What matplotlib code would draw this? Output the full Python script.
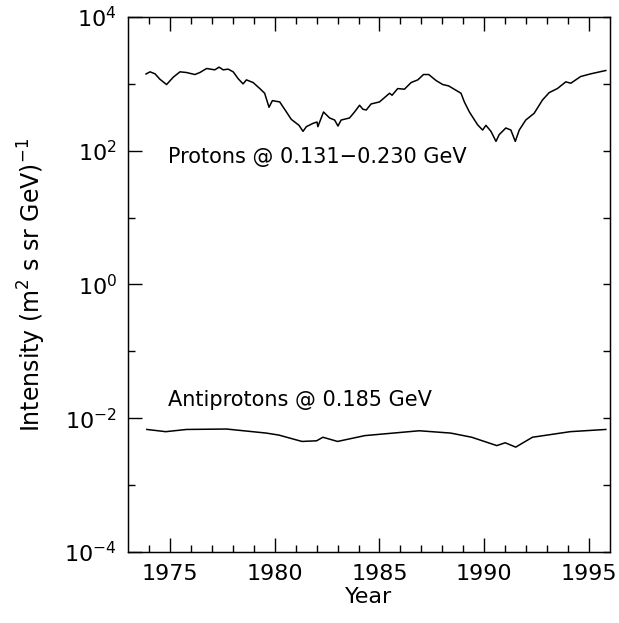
import math
import matplotlib
matplotlib.use("Agg")
import matplotlib.pyplot as plt
from matplotlib.ticker import FixedLocator, NullFormatter, FuncFormatter

proton_years = [1973.86, 1974.05, 1974.29, 1974.52, 1974.68, 1974.84, 1975.16, 1975.48, 1975.79,
                1976.19, 1976.43, 1976.75, 1977.14, 1977.35, 1977.54, 1977.78, 1978.02, 1978.25,
                1978.49, 1978.65, 1978.97, 1979.29, 1979.52, 1979.73, 1979.89, 1980.24, 1980.56,
                1980.79, 1981.16, 1981.35, 1981.51, 1981.83, 1982.02, 1982.06, 1982.33, 1982.62,
                1982.86, 1983.02, 1983.17, 1983.57, 1983.81, 1984.05, 1984.21, 1984.37, 1984.6,
                1985.0, 1985.48, 1985.6, 1985.87, 1986.19, 1986.51, 1986.83, 1987.1, 1987.35,
                1987.7, 1988.02, 1988.3, 1988.89, 1989.05, 1989.29, 1989.68, 1989.92, 1990.08,
                1990.32, 1990.56, 1990.71, 1991.03, 1991.27, 1991.48, 1991.67, 1991.98, 1992.38,
                1992.78, 1993.1, 1993.49, 1993.89, 1994.13, 1994.6, 1995.08, 1995.8]
proton_flux = [1406, 1514, 1413, 1175, 1072, 977, 1259, 1514, 1479,
               1380, 1479, 1698, 1622, 1778, 1622, 1660, 1514, 1202,
               1000, 1148, 1047, 851, 724, 447, 562, 537, 380,
               295, 240, 195, 229, 257, 269, 229, 380, 309,
               288, 234, 288, 309, 380, 479, 417, 407, 501,
               537, 724, 676, 851, 832, 1047, 1148, 1380, 1380,
               1122, 977, 933, 724, 537, 380, 245, 204, 240,
               195, 138, 174, 219, 204, 138, 204, 288, 363,
               575, 741, 851, 1072, 1023, 1288, 1413, 1585]

pbar_years = [1973.9, 1974.8, 1975.8, 1977.7, 1979.6, 1980.2, 1981.3, 1982.0, 1982.3,
              1983.0, 1984.3, 1986.9, 1988.4, 1989.4, 1990.6, 1991.0, 1991.5, 1992.3,
              1994.1, 1995.8]
pbar_flux = [6.8e-3, 6.3e-3, 6.8e-3, 6.9e-3, 6.0e-3, 5.6e-3, 4.5e-3, 4.6e-3, 5.2e-3,
             4.5e-3, 5.5e-3, 6.5e-3, 6.0e-3, 5.2e-3, 3.9e-3, 4.3e-3, 3.7e-3, 5.2e-3,
             6.3e-3, 6.8e-3]

x_major = [1975, 1980, 1985, 1990, 1995]
x_minor = list(range(1974, 1996))
y_major_exp = [-4, -2, 0, 2, 4]
y_minor_exp = [-3, -1, 1, 3]

fig = plt.figure(figsize=(6.19, 6.23), dpi=100)
rect = [128/619, 1-552/623, (610-128)/619, (552-17)/623]
ax = fig.add_axes(rect)

ax.plot(proton_years, proton_flux, color='black', lw=1.1)
ax.plot(pbar_years, pbar_flux, color='black', lw=1.1)

ax.set_yscale('log')
ax.set_xlim(1973, 1996)
ax.set_ylim(1e-4, 1e4)

ax.xaxis.set_major_locator(FixedLocator(x_major))
ax.xaxis.set_minor_locator(FixedLocator(x_minor))
ax.yaxis.set_major_locator(FixedLocator([10.0**e for e in y_major_exp]))
ax.yaxis.set_minor_locator(FixedLocator([10.0**e for e in y_minor_exp]))
ax.yaxis.set_minor_formatter(NullFormatter())
ax.yaxis.set_major_formatter(FuncFormatter(lambda v, p: r'$10^{%d}$' % round(math.log10(v))))

ax.tick_params(which='major', direction='in', length=10, width=1, top=True, right=False,
               labelsize=16)
ax.tick_params(which='minor', direction='in', length=5, width=1, top=True, right=False)
ax.tick_params(axis='x', which='major', pad=9)
ax.tick_params(axis='y', which='major', pad=8)
for sp in ax.spines.values():
    sp.set_linewidth(1.0)

# right-hand axis: short ticks at every decade, no labels
ax2 = ax.twinx()
ax2.set_yscale('log')
ax2.set_ylim(1e-4, 1e4)
ax2.yaxis.set_major_locator(FixedLocator([10.0**e for e in sorted(y_major_exp + y_minor_exp)]))
ax2.yaxis.set_minor_locator(FixedLocator([]))
ax2.yaxis.set_major_formatter(NullFormatter())
ax2.yaxis.set_minor_formatter(NullFormatter())
ax2.tick_params(axis='y', which='major', direction='in', length=5, width=1)

ax.set_xlabel('Year', fontsize=16, labelpad=2)
ax.set_ylabel(r'Intensity (m$^2$ s sr GeV)$^{-1}$', fontsize=17, labelpad=12)

ax.text(1974.9, 80, 'Protons @ 0.131\u22120.230 GeV', fontsize=15, va='center', ha='left')
ax.text(1974.9, 1.9e-2, 'Antiprotons @ 0.185 GeV', fontsize=15, va='center', ha='left')

fig.savefig('out.png', dpi=100)
